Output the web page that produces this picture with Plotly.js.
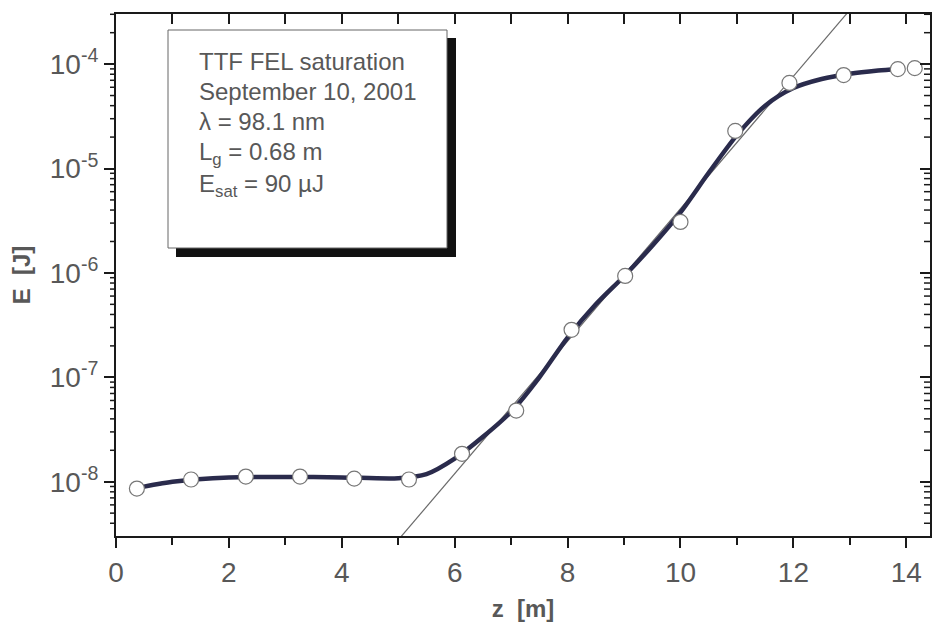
<!DOCTYPE html>
<html>
<head>
<meta charset="utf-8">
<script src="https://cdn.plot.ly/plotly-3.0.1.min.js"></script>
<style>
  html, body { margin: 0; padding: 0; background: #ffffff; }
  #chart { width: 932px; height: 630px; }
</style>
</head>
<body>
<div id="chart"></div>
<script>
// Measured points (open circles)
const zMeas = [0.37, 1.33, 2.30, 3.26, 4.22, 5.19, 6.13, 7.09, 8.07, 9.02, 10.0, 10.97, 11.93, 12.89, 13.85, 14.15];
const eMeas = [8.6e-9, 1.05e-8, 1.12e-8, 1.12e-8, 1.07e-8, 1.05e-8, 1.85e-8, 4.8e-8, 2.85e-7, 9.35e-7, 3.08e-6, 2.29e-5, 6.6e-5, 7.85e-5, 8.95e-5, 9.15e-5];

// Thick smooth curve
const zCurve = [0.37, 1.0, 2.0, 3.0, 4.0, 5.0, 5.5, 6.0, 6.5, 7.0, 7.5, 8.0, 8.5, 9.0, 9.5, 10.0, 10.5, 11.0, 11.5, 12.0, 12.5, 13.0, 13.5, 13.85];
const eCurve = [8.7e-9, 1.0e-8, 1.10e-8, 1.11e-8, 1.10e-8, 1.08e-8, 1.18e-8, 1.66e-8, 2.69e-8, 4.68e-8, 1.0e-7, 2.4e-7, 5.0e-7, 9.3e-7, 1.82e-6, 3.8e-6, 9.1e-6, 2.09e-5, 4.0e-5, 5.9e-5, 7.2e-5, 8.1e-5, 8.7e-5, 9.0e-5];

// Thin exponential-growth line (end points)
const zLine = [5.0, 13.0];
const eLine = [2.77e-9, 3.30e-4];

// Ticks
const xTickVals = [0, 2, 4, 6, 8, 10, 12, 14];
const xTickText = ['0', '2', '4', '6', '8', '10', '12', '14'];
const yTickVals = [1e-8, 1e-7, 1e-6, 1e-5, 1e-4];
const yTickText = ['10<sup>-8</sup>', '10<sup>-7</sup>', '10<sup>-6</sup>', '10<sup>-5</sup>', '10<sup>-4</sup>'];
const yDecades = [1e-9, 1e-8, 1e-7, 1e-6, 1e-5, 1e-4];
const yMinorDigits = [2, 3, 4, 5, 6, 7, 8, 9];

// Info box lines
const infoLines = [
  'TTF FEL saturation',
  'September 10, 2001',
  'λ = 98.1 nm',
  'L<sub>g</sub> = 0.68 m',
  'E<sub>sat</sub> = 90 µJ'
];

const textColor = '#585858';
const font = 'Arial, "Liberation Sans", sans-serif';
const yRange = [-8.52, -3.52];
const xRange = [0, 14.42];

// pixel helpers (plot area: x 116..930, y 14..536)
const L = 116, R = 930, T = 14, B = 536;
const px = v => (v - L) / (R - L);
const py = v => (B - v) / (B - T);

const traces = [
  {
    x: zLine, y: eLine, mode: 'lines', type: 'scatter',
    line: {color: '#6a6a6a', width: 1.2},
    hoverinfo: 'skip', showlegend: false
  },
  {
    x: zCurve, y: eCurve, mode: 'lines', type: 'scatter',
    line: {color: '#2a2b4c', width: 4.5, shape: 'spline', smoothing: 0.8},
    showlegend: false
  },
  {
    x: zMeas, y: eMeas, mode: 'markers', type: 'scatter',
    marker: {symbol: 'circle', size: 15, color: '#ffffff', line: {color: '#777777', width: 1.2}},
    showlegend: false
  },
  {
    x: [zMeas[0]], y: [eMeas[0]], xaxis: 'x2', yaxis: 'y2', mode: 'markers', type: 'scatter',
    marker: {size: 1, color: 'rgba(0,0,0,0)'}, hoverinfo: 'skip', showlegend: false
  }
];

const lineYs = [61.7, 91.7, 121.7, 153.3, 185];
const annotations = infoLines.map((t, i) => ({
  text: t, xref: 'paper', yref: 'paper', x: px(197), y: py(lineYs[i]),
  xanchor: 'left', yanchor: 'middle', showarrow: false, align: 'left',
  font: {family: font, size: 24, color: textColor}
}));

// minor log ticks on left (outside) and right (inside) axes, as short shapes
const minorShapes = [];
yDecades.forEach(d => yMinorDigits.forEach(m => {
  const f = (Math.log10(d * m) - yRange[0]) / (yRange[1] - yRange[0]);
  if (f < 0 || f > 1) return;
  const st = {color: '#1a1a1a', width: 1.5};
  minorShapes.push({type: 'line', xref: 'paper', yref: 'paper', x0: px(L - 6), x1: px(L), y0: f, y1: f, line: st});
  minorShapes.push({type: 'line', xref: 'paper', yref: 'paper', x0: px(R - 6), x1: px(R), y0: f, y1: f, line: st});
}));

const layout = {
  width: 932, height: 630,
  margin: {l: L, r: 932 - R, t: T, b: 630 - B},
  paper_bgcolor: '#ffffff', plot_bgcolor: '#ffffff',
  showlegend: false,
  xaxis: {
    range: xRange, showgrid: false, zeroline: false,
    showline: true, linecolor: '#1a1a1a', linewidth: 2,
    tickmode: 'array', tickvals: xTickVals, ticktext: xTickText,
    ticks: 'outside', ticklen: 10, tickwidth: 2, tickcolor: '#1a1a1a',
    minor: {dtick: 1, ticks: 'outside', ticklen: 7, tickwidth: 2, tickcolor: '#1a1a1a', showgrid: false},
    tickfont: {family: font, size: 28, color: textColor},
    title: {text: '<b>z  [m]</b>', font: {family: font, size: 24, color: textColor}, standoff: 14}
  },
  xaxis2: {
    overlaying: 'x', side: 'top', range: xRange, showgrid: false, zeroline: false,
    showline: true, linecolor: '#1a1a1a', linewidth: 2,
    dtick: 1, tick0: 0, ticks: 'inside', ticklen: 10, tickwidth: 2, tickcolor: '#1a1a1a',
    showticklabels: false
  },
  yaxis: {
    type: 'log', range: yRange, showgrid: false, zeroline: false,
    showline: true, linecolor: '#1a1a1a', linewidth: 2,
    tickmode: 'array', tickvals: yTickVals, ticktext: yTickText,
    ticks: 'outside', ticklen: 10, tickwidth: 2, tickcolor: '#1a1a1a',
    tickfont: {family: font, size: 28, color: textColor},
    title: {text: '<b>E  [J]</b>', font: {family: font, size: 24, color: textColor}, standoff: 12}
  },
  yaxis2: {
    type: 'log', overlaying: 'y', side: 'right', range: yRange,
    showgrid: false, zeroline: false,
    showline: true, linecolor: '#1a1a1a', linewidth: 2,
    tickmode: 'array', tickvals: yTickVals, ticktext: yTickText,
    ticks: 'inside', ticklen: 10, tickwidth: 2, tickcolor: '#1a1a1a',
    showticklabels: false
  },
  shapes: [
    {type: 'rect', xref: 'paper', yref: 'paper', x0: px(176), x1: px(456), y0: py(38), y1: py(257),
     fillcolor: '#111111', line: {width: 0}},
    {type: 'rect', xref: 'paper', yref: 'paper', x0: px(168), x1: px(447), y0: py(30), y1: py(248),
     fillcolor: '#ffffff', line: {color: '#666666', width: 1}}
  ].concat(minorShapes),
  annotations: annotations
};

Plotly.newPlot('chart', traces, layout, {displayModeBar: false, staticPlot: true});
</script>
</body>
</html>
